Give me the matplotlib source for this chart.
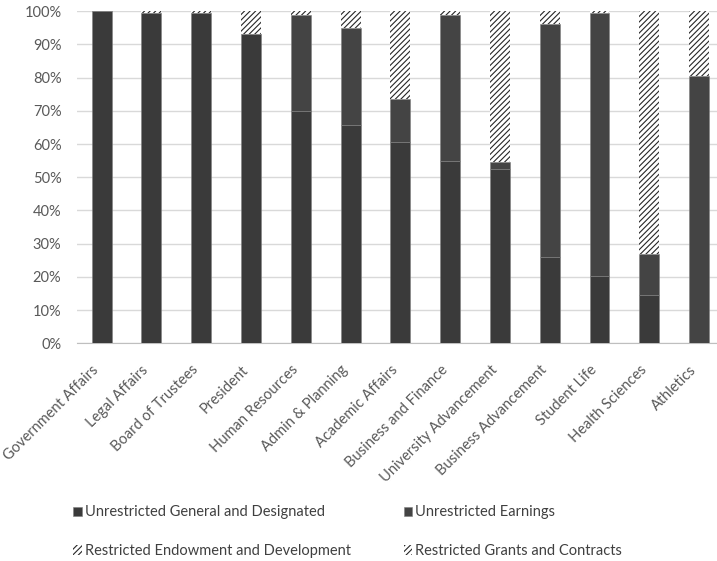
import numpy as np
import matplotlib
matplotlib.use('Agg')
import matplotlib.pyplot as plt
from matplotlib.ticker import PercentFormatter

plt.rcParams['font.family'] = ['Lato', 'DejaVu Sans']
plt.rcParams['hatch.linewidth'] = 0.8

departments = ['Government Affairs', 'Legal Affairs', 'Board of Trustees', 'President',
               'Human Resources', 'Admin & Planning', 'Academic Affairs',
               'Business and Finance', 'University Advancement', 'Business Advancement',
               'Student Life', 'Health Sciences', 'Athletics']
general = np.array([100, 99.4, 99.4, 93.0, 70.0, 65.6, 60.5, 55.0, 52.4, 25.9, 20.2, 14.6, 0])
earnings = np.array([0, 0, 0, 0, 28.9, 29.4, 13.0, 43.9, 2.2, 70.4, 79.3, 12.3, 80.4])
endowment = np.array([0, 0, 0, 0, 0, 0, 0, 0, 0, 0, 0, 0, 0])
grants = 100 - general - earnings - endowment

fig = plt.figure(figsize=(7.17, 5.61), dpi=100)
ax = fig.add_axes([0.107, 0.388, 0.893, 0.592])

x = np.arange(len(departments))
w = 0.4
b1 = ax.bar(x, general, w, color='#3a3a3a', edgecolor='#808080', linewidth=0.4,
            label='Unrestricted General and Designated', zorder=3)
b2 = ax.bar(x, earnings, w, bottom=general, color='#444444', edgecolor='#808080',
            linewidth=0.4, label='Unrestricted Earnings', zorder=3)
b3 = ax.bar(x, endowment, w, bottom=general + earnings, color='white', edgecolor='#262626',
            linewidth=0, hatch='//////', label='Restricted Endowment and Development', zorder=3)
b4 = ax.bar(x, grants, w, bottom=general + earnings + endowment, color='white',
            edgecolor='#262626', linewidth=0, hatch='//////',
            label='Restricted Grants and Contracts', zorder=3)

ax.set_ylim(0, 100)
ax.set_xlim(-0.5, 12.36)
ax.set_yticks(np.arange(0, 101, 10))
ax.yaxis.set_major_formatter(PercentFormatter(decimals=0))
ax.grid(axis='y', color='#d9d9d9', linewidth=1, zorder=0)
for s in ['top', 'right', 'left']:
    ax.spines[s].set_visible(False)
ax.spines['bottom'].set_color('#bfbfbf')
ax.tick_params(axis='both', length=0, labelsize=10.5, colors='#595959')
ax.tick_params(axis='y', pad=11)
ax.tick_params(axis='x', pad=14)
ax.set_xticks(x)
ax.set_xticklabels(departments, rotation=45, ha='right', va='top')

handles = [b1, b3, b2, b4]
fig.legend(handles, [h.get_label() for h in handles], ncol=2, loc='center',
           bbox_to_anchor=(0.485, 0.052), frameon=False, fontsize=10.5,
           handlelength=0.6, handleheight=0.6, handletextpad=0.2,
           columnspacing=3.6, labelspacing=1.7, labelcolor='#404040')

plt.savefig('out.png')
